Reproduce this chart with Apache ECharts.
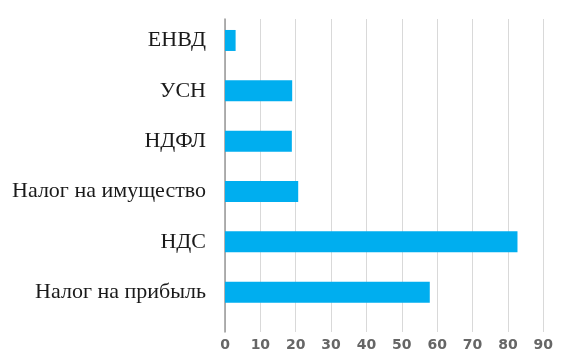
<!DOCTYPE html>
<html>
<head>
<meta charset="utf-8">
<script src="https://cdn.jsdelivr.net/npm/echarts@6/dist/echarts.min.js"></script>
<style>
html,body{margin:0;padding:0;background:#fff;}
#chart{width:570px;height:364px;}
</style>
</head>
<body>
<div id="chart"></div>
<script>
var categories = ['Налог на прибыль', 'НДС', 'Налог на имущество', 'НДФЛ', 'УСН', 'ЕНВД'];
var values = [57.9, 82.7, 20.7, 18.9, 19.0, 3.0];
var xTicks = [0, 10, 20, 30, 40, 50, 60, 70, 80, 90];

var chart = echarts.init(document.getElementById('chart'), null, {renderer: 'canvas'});
var option = {
  animation: false,
  backgroundColor: '#ffffff',
  grid: [
    {left: 225, right: 26.7, top: 15.3, bottom: 46.7},
    {left: 225, right: 26.7, top: 19, bottom: 32}
  ],
  xAxis: [
    {gridIndex: 0, type: 'value', min: xTicks[0], max: xTicks[xTicks.length - 1], interval: 10,
     show: false, splitLine: {show: false}},
    {gridIndex: 1, type: 'value', min: xTicks[0], max: xTicks[xTicks.length - 1], interval: 10,
     axisLine: {show: false}, axisTick: {show: false},
     splitLine: {show: true, lineStyle: {color: '#d9d9d9', width: 1}},
     axisLabel: {margin: 6, color: '#666666', fontFamily: 'DejaVu Sans', fontWeight: 'bold', fontSize: 14}}
  ],
  yAxis: [
    {gridIndex: 0, type: 'category', data: categories,
     axisLine: {show: false}, axisTick: {show: false}, splitLine: {show: false},
     axisLabel: {margin: 19, color: '#1a1a1a', fontFamily: 'Liberation Serif', fontSize: 22}},
    {gridIndex: 1, type: 'value', min: 0, max: 1,
     axisLine: {show: true, lineStyle: {color: '#999999', width: 1.5}},
     axisTick: {show: false}, axisLabel: {show: false}, splitLine: {show: false}}
  ],
  series: [
    {type: 'bar', xAxisIndex: 0, yAxisIndex: 0, data: values, barWidth: 21,
     itemStyle: {color: '#00AEEF'}, z: 3}
  ]
};
chart.setOption(option);
</script>
</body>
</html>
